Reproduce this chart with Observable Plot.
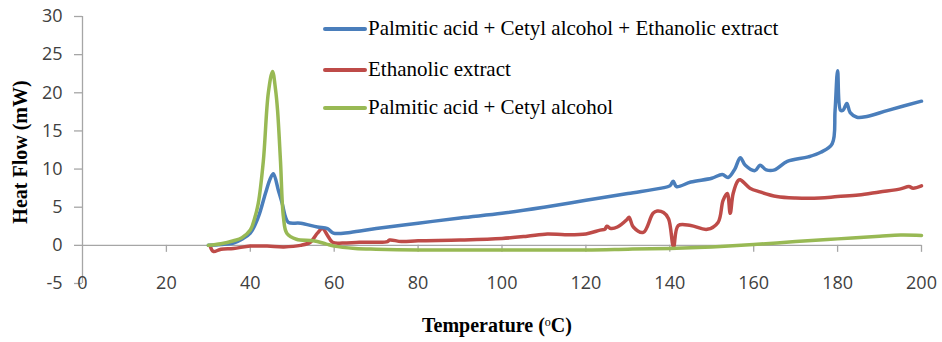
<!DOCTYPE html>
<html><head><meta charset="utf-8">
<script src="https://cdn.jsdelivr.net/npm/d3@7"></script>
<script src="https://cdn.jsdelivr.net/npm/@observablehq/plot@0.6"></script>
<style>
body{margin:0;background:#fff;}
#wrap{position:relative;width:942px;height:342px;overflow:hidden;}
.leg{position:absolute;left:323px;height:0;font-family:"Liberation Serif",serif;font-size:21px;color:#000;white-space:nowrap;}
.leg span.sw{position:absolute;left:0;top:-2px;width:44px;height:4px;border-radius:2px;}
.leg span.tx{position:absolute;left:45px;top:-14px;line-height:26px;}
.ttl{position:absolute;font-family:"Liberation Serif",serif;font-weight:bold;font-size:20px;color:#000;white-space:nowrap;transform:translate(-50%,-50%);}
</style></head><body><div id="wrap"></div>
<script>
const seriesNames = ["Palmitic acid + Cetyl alcohol + Ethanolic extract", "Ethanolic extract", "Palmitic acid + Cetyl alcohol"];
const seriesColors = ["#4a7ebb", "#be4b48", "#98b954"];
const xTicks = [0, 20, 40, 60, 80, 100, 120, 140, 160, 180, 200];
const yTicks = [-5, 0, 5, 10, 15, 20, 25, 30];

const blueT = [30,33,36,38,40,41.9,43.6,44.8,45.5,46.7,47.6,48.4,49.1,52,56,58.4,59.8,63.8,70,80,90,100,110,120,130,138,140,140.8,141.6,145,150,152.5,153.9,155.5,156.8,158,160.3,161.5,163,165,168,173,176,178.7,179.4,180,180.7,181.3,182.2,183,184.6,187,192,200];
const blueV = [0,0.1,0.3,0.8,1.6,3.7,6.8,8.8,9.4,7.2,5.5,3.7,3.0,2.9,2.4,2.2,1.6,1.7,2.2,2.9,3.6,4.2,5.0,5.9,6.8,7.5,7.8,8.4,7.7,8.3,8.8,9.3,8.9,10,11.5,10.5,9.8,10.5,9.9,9.9,11,11.6,12.2,13.3,17.7,22.9,17.7,17.7,18.6,17.4,16.8,16.9,17.7,18.9];

const redT = [30.5,31.2,33,36,40,44,48,52,54.3,56,57.2,58.4,59.6,62,66,70,72.7,73.2,76,80,90,100,106,110.8,115,120,123.4,124.5,125,126,127.5,129.8,130.3,131.3,133.7,136,137,138.5,139.7,140.9,142,145,148.9,151.5,152.7,153.7,154.4,155.1,156.3,156.8,159.1,161.5,165.5,170,175.8,180,185,190,195,197,198,200];
const redV = [-0.2,-0.8,-0.5,-0.4,-0.1,-0.1,-0.2,0,0.4,1.6,2.2,1.3,0.4,0.3,0.4,0.4,0.5,0.7,0.5,0.6,0.7,0.9,1.2,1.5,1.4,1.5,2.0,2.1,2.5,2.2,2.4,3.4,3.7,2.4,1.7,4.2,4.5,4.3,3.5,-0.2,2.6,2.6,2.1,3.0,5.9,6.8,4.2,6.8,8.5,8.6,7.5,7.0,6.4,6.2,6.2,6.4,6.6,7.0,7.4,7.7,7.5,7.8];

const greenT = [30,33,36,38,40,41,41.9,43.1,44.3,45.3,46,46.5,47.2,47.9,48.7,51,55,58,60,65,70,80,100,120,130,140,150,160,170,180,190,195,200];
const greenV = [0,0.2,0.6,1.0,2.0,3.5,5.5,11,20,22.8,20.5,17.7,11,3.7,1.6,0.8,0.6,0.2,-0.1,-0.4,-0.5,-0.6,-0.6,-0.6,-0.5,-0.4,-0.2,0.1,0.5,0.85,1.2,1.35,1.3];

const rows = [];
[[blueT, blueV], [redT, redV], [greenT, greenV]].forEach(([T, V], k) => {
  T.forEach((t, i) => rows.push({series: seriesNames[k], t, v: V[i]}));
});
const drawOrder = [seriesNames[1], seriesNames[0], seriesNames[2]];

const axisGray = "#a6a6a6";
const chart = Plot.plot({
  width: 942, height: 342,
  marginLeft: 82, marginRight: 21, marginTop: 16, marginBottom: 59,
  x: {domain: [0, 200], axis: null},
  y: {domain: [-5, 30]},
  color: {domain: seriesNames, range: seriesColors},
  style: {fontFamily: "'Open Sans', sans-serif", fontSize: "18px", color: "#404040", background: "transparent"},
  marks: [
    Plot.ruleY([0], {stroke: axisGray, strokeWidth: 1.3}),
    Plot.ruleX([0], {stroke: axisGray, strokeWidth: 1.3}),
    Plot.ruleX(xTicks.filter(d => d > 0), {x: d => d, y1: 0, y2: 0, insetBottom: -7, stroke: axisGray, strokeWidth: 1.3}),
    Plot.axisY({ticks: yTicks, tickSize: 8, tickPadding: 12, label: null, stroke: axisGray, strokeWidth: 1.3, fill: "#404040", tickFormat: d => String(d)}),
    Plot.text(xTicks, {x: d => d, y: -5, text: d => String(d), fill: "#404040"}),
    ...drawOrder.map(s => Plot.line(rows.filter(r => r.series === s), {x: "t", y: "v", stroke: "series", strokeWidth: 3.5, curve: "catmull-rom", strokeLinejoin: "round"}))
  ]
});
const wrap = document.getElementById("wrap");
wrap.appendChild(chart);

const legTops = [29, 70, 108];
seriesNames.forEach((name, k) => {
  const d = document.createElement("div");
  d.className = "leg";
  d.style.top = legTops[k] + "px";
  d.innerHTML = `<span class="sw" style="background:${seriesColors[k]}"></span><span class="tx"></span>`;
  d.querySelector(".tx").textContent = name;
  wrap.appendChild(d);
});
const yt = document.createElement("div");
yt.className = "ttl";
yt.style.left = "20px"; yt.style.top = "152px";
yt.style.transform = "translate(-50%,-50%) rotate(-90deg)";
yt.textContent = "Heat Flow (mW)";
wrap.appendChild(yt);
const xt = document.createElement("div");
xt.className = "ttl";
xt.style.left = "497px"; xt.style.top = "325px";
xt.innerHTML = 'Temperature (<span style="font-size:12px;font-weight:normal;vertical-align:6px">o</span>C)';
wrap.appendChild(xt);
</script>
</body></html>
